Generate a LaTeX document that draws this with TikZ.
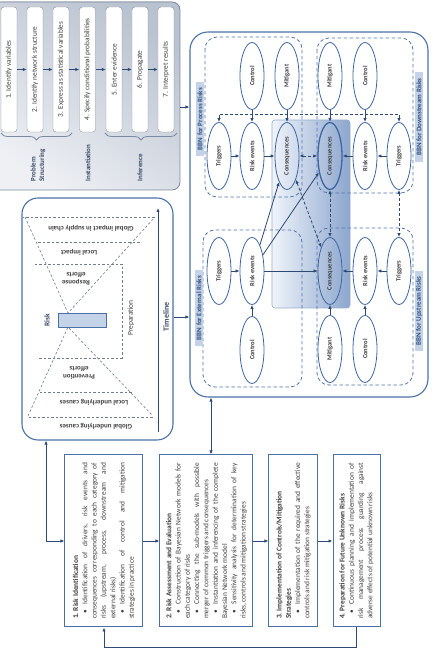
\documentclass[tikz,border=0pt]{standalone}
\usepackage{fontspec}
\setmainfont{Carlito}
\usetikzlibrary{shapes.geometric,arrows.meta,decorations.pathreplacing}
\setlength\parindent{0pt}
\definecolor{pblue}{HTML}{4A70A8}
\definecolor{ablue}{HTML}{2C4A74}
\definecolor{eblue}{HTML}{3D65A0}
\definecolor{gblue}{HTML}{4F74AC}
\definecolor{txt}{HTML}{3F3F3F}
\definecolor{lblfill}{HTML}{C5D3E8}
\definecolor{lbltxt}{HTML}{2F4F7F}
\definecolor{bowdash}{HTML}{6F7D92}
\definecolor{stepgray}{HTML}{8A8F98}
\definecolor{panelgray}{HTML}{7C8AA0}
\definecolor{steptxt}{HTML}{3A4A66}
\newcommand\nl{\hfil\break}
\newcommand\bul{\hspace*{5pt}\textbullet\hspace*{6pt}}
\newcommand\ftxt{\fontsize{7.4}{9.3}\selectfont}
\begin{document}
\begin{tikzpicture}[x=1pt,y=1pt,
  arr/.style={-{Latex[length=4pt,width=3.4pt]},draw=ablue,line width=0.8pt},
  darr/.style={{Latex[length=4pt,width=3.4pt]}-{Latex[length=4pt,width=3.4pt]},draw=ablue,line width=0.8pt},
  dasharr/.style={darr,dash pattern=on 3pt off 2pt},
  bnode/.style={ellipse,draw=eblue,line width=0.8pt,minimum width=67pt,minimum height=24pt,inner sep=0pt,font=\fontsize{6.5}{7}\selectfont\bfseries,text=txt},
  grp/.style={draw=gblue,line width=0.8pt,rounded corners=12pt,dash pattern=on 3.5pt off 2.5pt},
  bbnlbl/.style={fill=lblfill,text=lbltxt,font=\fontsize{7}{8}\selectfont\bfseries,inner xsep=6pt,inner ysep=0.5pt,minimum height=8pt},
  infobox/.style={draw=pblue,line width=1pt,text width=156pt,inner xsep=8pt,inner ysep=3pt,align=justify,font=\ftxt,text=txt},
  stepbox/.style={draw=stepgray,fill=white,rounded corners=3pt,minimum width=125pt,minimum height=16pt,inner sep=0pt,font=\fontsize{7.3}{8}\selectfont,text=txt},
  steplbl/.style={font=\fontsize{7}{8.4}\selectfont\bfseries,text=steptxt,align=left,anchor=west},
  bowtxt/.style={font=\fontsize{7}{8.2}\selectfont\bfseries,text=txt,rotate=90,align=center},
  bowline/.style={draw=bowdash,line width=0.6pt,dash pattern=on 2.5pt off 2pt},
  panel/.style={draw=pblue,line width=1.1pt,rounded corners=16pt,inner sep=0pt},
  brc/.style={decorate,decoration={brace,amplitude=7pt},draw=panelgray,line width=0.8pt},
]
\useasboundingbox (-432,0) rectangle (0,663);
% shaded backgrounds (final orientation)
\fill[rounded corners=8pt,top color={rgb,255:red,185;green,194;blue,208},bottom color={rgb,255:red,238;green,240;blue,244},shading angle=-35] (-440,473) rectangle (-252,661);
\path[rounded corners=3pt,left color={rgb,255:red,240;green,244;blue,250},right color={rgb,255:red,140;green,166;blue,206},draw={rgb,255:red,150;green,172;blue,204},line width=0.6pt] (-160,355) rectangle (-82,543);
\begin{scope}[rotate=90,transform shape]
% ---------- Bayesian steps panel ----------
\node[draw=panelgray,line width=0.8pt,rounded corners=8pt,minimum width=188pt,minimum height=188pt,inner sep=0pt] (steps) at (567,346) {};
\node[stepbox] (s1) at (593.5,423) {1. Identify variables};
\node[stepbox] (s2) at (593.5,397) {2. Identify network structure};
\node[stepbox] (s3) at (593.5,371) {3. Express as statistical variables};
\node[stepbox] (s4) at (593.5,344.5) {4. Specify conditional probabilities};
\node[stepbox] (s5) at (593.5,318) {5. Enter evidence};
\node[stepbox] (s6) at (593.5,292) {6. Propagate};
\node[stepbox] (s7) at (593.5,266) {7. Interpret results};
\foreach \a/\b in {s1/s2,s2/s3,s3/s4,s4/s5,s5/s6,s6/s7} \draw[arr] (\a) -- (\b);
\draw[brc] (530,360) -- (530,431);
\draw[brc] (530,255) -- (530,327);
\node[steplbl] (lps) at (478,394) {Problem\\Structuring};
\node[steplbl] (lin) at (478,344) {Instantiation};
\node[steplbl] (linf) at (478,292) {Inference};
% ---------- Timeline / bow-tie panel ----------
\node[panel,minimum width=242pt,minimum height=151pt] (tl) at (344,334.5) {};
\draw[bowline] (446,277) -- (446,409);
\draw[bowline] (446,407) -- (350,364) -- (446,277);
\draw[bowline] (421,292) -- (421,396);
\draw[bowline] (399,397) -- (399,310) -- (305,310) -- (305,394);
\draw[bowline] (271,300) -- (271,392);
\draw[bowline] (246,279) -- (246,405);
\draw[bowline] (247,404) -- (336,364) -- (247,279);
\node[bowtxt] (tgi) at (435,341) {Global impact in supply chain};
\node[bowtxt] (tli) at (411,353) {Local impact};
\node[bowtxt] (tre) at (384,356) {Response\\efforts};
\node[bowtxt] (tpe) at (290,353) {Prevention\\efforts};
\node[bowtxt] (tlu) at (261,338) {Local underlying causes};
\node[bowtxt] (tgu) at (237,336) {Global underlying causes};
\node[draw=pblue,fill=lblfill,line width=0.8pt,minimum width=14pt,minimum height=48pt,inner sep=0pt] (riskbox) at (343,350) {};
\node[font=\fontsize{7.5}{8}\selectfont\bfseries,text=steptxt] (risk) at (343,385) {Risk};
\node[font=\fontsize{7.5}{8}\selectfont,text=txt] (prep) at (345,301) {Preparation};
\coordinate (tls) at (231,274);
\coordinate (tle) at (455,274);
\draw[arr] (tls) -- (tle);
\node[font=\fontsize{8}{9}\selectfont\bfseries,text=steptxt] (tlabel) at (346,266) {Timeline};
% ---------- BBN panel ----------
\node[panel,minimum width=365pt,minimum height=238pt,rounded corners=18pt] (bbn) at (448.5,123) {};
\node[grp,minimum width=160pt,minimum height=97pt] (gproc) at (546,178.5) {};
\node[grp,minimum width=155pt,minimum height=96pt] (gdown) at (547.5,67) {};
\node[grp,minimum width=157pt,minimum height=99pt] (gext) at (354.5,179.5) {};
\node[grp,minimum width=157pt,minimum height=96pt] (gup) at (356.5,67) {};
\node[bbnlbl] (lproc) at (544,232) {BBN for Process Risks};
\node[bbnlbl] (lext) at (355,233) {BBN for External Risks};
\node[bbnlbl] (ldown) at (546,13) {BBN for Downstream Risks};
\node[bbnlbl] (lup) at (352,13) {BBN for Upstream Risks};
% process
\node[bnode] (pctrl) at (587,180) {Control};
\node[bnode] (pmit) at (587,145) {Mitigant};
\node[bnode] (ptrig) at (507,213) {Triggers};
\node[bnode] (prisk) at (507,180) {Risk events};
\node[bnode] (pcons) at (507,145) {Consequences};
% downstream
\node[bnode] (dmit) at (587,102) {Mitigant};
\node[bnode] (dctrl) at (587,67) {Control};
\node[bnode,line width=1.3pt] (dcons) at (507,102) {Consequences};
\node[bnode] (drisk) at (507,67) {Risk events};
\node[bnode] (dtrig) at (507,33) {Triggers};
% external
\node[bnode] (etrig) at (392,213) {Triggers};
\node[bnode] (erisk) at (392,180) {Risk events};
\node[bnode] (ectrl) at (313,180) {Control};
% upstream
\node[bnode] (ucons) at (392,102) {Consequences};
\node[bnode] (urisk) at (392,67) {Risk events};
\node[bnode] (utrig) at (392,33) {Triggers};
\node[bnode] (umit) at (314,102) {Mitigant};
\node[bnode] (uctrl) at (314,67) {Control};
% solid arrows
\draw[arr] (ptrig) -- (prisk);
\draw[arr] (prisk) -- (pcons);
\draw[arr] (pctrl) -- (prisk);
\draw[arr] (pmit) -- (pcons);
\draw[arr] (dtrig) -- (drisk);
\draw[arr] (drisk) -- (dcons);
\draw[arr] (dctrl) -- (drisk);
\draw[arr] (dmit) -- (dcons);
\draw[arr] (etrig) -- (erisk);
\draw[arr] (ectrl) -- (erisk);
\draw[arr] (erisk) -- (ucons);
\draw[arr] (erisk) -- (pcons);
\draw[arr] (erisk) -- (dcons);
\draw[arr] (utrig) -- (urisk);
\draw[arr] (urisk) -- (ucons);
\draw[arr] (umit) -- (ucons);
\draw[arr] (uctrl) -- (urisk);
% dashed links
\draw[dasharr] (ptrig.east) -- ++(8,0) |- (dtrig.east);
\draw[dasharr] (pcons) -- (dcons);
\draw[dasharr] (dcons) -- (ucons);
\draw[dasharr] (dtrig) -- (utrig);
\draw[dasharr] (pcons) -- (ucons);
% ---------- Methodology boxes ----------
\node[infobox,minimum height=78pt] (box1) at (122,328) {{\bfseries 1. Risk Identification}\par
\bul Identification of drivers, risk events and\linebreak consequences corresponding to each category of\linebreak risks (upstream, process, downstream and\linebreak external risks)\par
\bul Identification of control and mitigation\linebreak strategies in practice};
\node[infobox,minimum height=93pt] (box2) at (122,225.5) {{\bfseries 2. Risk Assessment and Evaluation}\par
\bul Construction of Bayesian Network models for\linebreak each category of risks\par
\bul Connecting the sub-models with possible\linebreak merger of common triggers and consequences\par
\bul Instantiation and inferencing of the complete\linebreak Bayesian Network model\par
\bul Sensitivity analysis for determination of key\linebreak risks, controls and mitigation strategies};
\node[infobox,minimum height=49pt] (box3) at (122,138.5) {{\bfseries 3. Implementation of Controls/Mitigation\nl Strategies}\par
\bul Implementation of the required and effective\linebreak controls and risk mitigation strategies};
\node[infobox,minimum height=47pt] (box4) at (122,75.5) {{\bfseries 4. Preparation for Future Unknown Risks}\par
\bul Continuous planning and implementation of\linebreak risk management process guarding against\linebreak adverse effects of potential unknown risks};
% ---------- flows ----------
\draw[arr] (box1) -- (box2);
\draw[arr] (box2) -- (box3);
\draw[arr] (box3) -- (box4);
\draw[arr] (box4.west) -- ++(-20,0) |- (box1.west);
\draw[darr] (box1.north) |- (tl.west |- 0,386);
\draw[darr] (box2.east |- 0,221) -- (bbn.west |- 0,221);
\draw[arr] (tl.south -| 346,0) -- (bbn.north -| 346,0);
\draw[arr] (steps.south -| 556,0) -- (bbn.north -| 556,0);
\end{scope}
\end{tikzpicture}
\end{document}
